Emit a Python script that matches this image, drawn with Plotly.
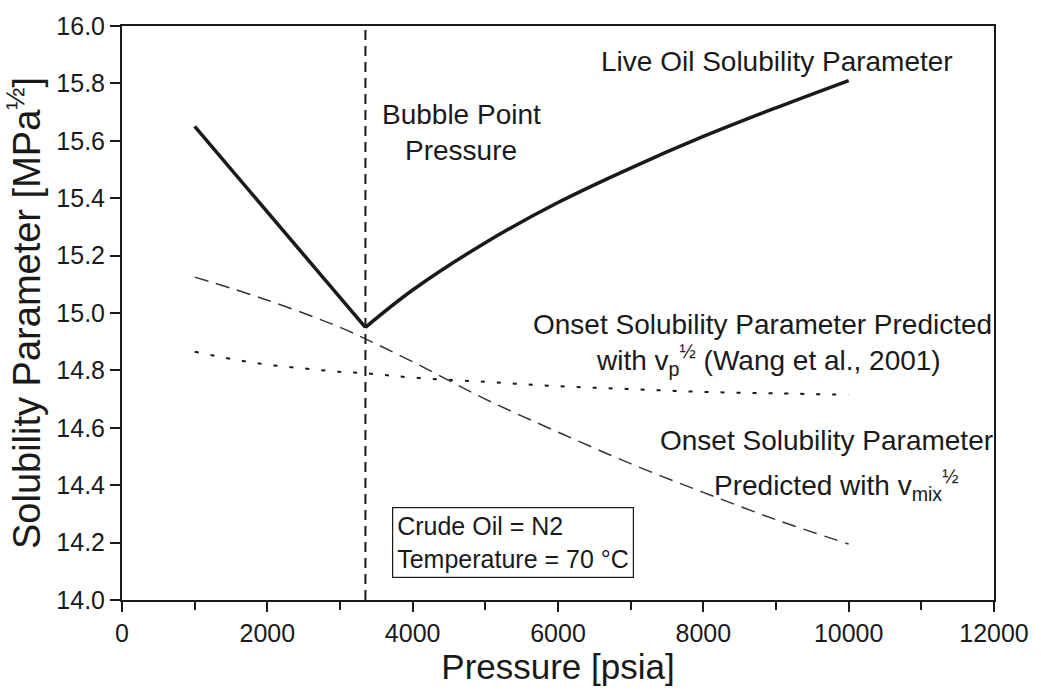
import plotly.graph_objects as go

# ---- data ----
live_p = [1000, 3350, 4000, 5000, 6000, 7000, 8000, 9000, 10000]
live_s = [15.65, 14.95, 15.08, 15.245, 15.385, 15.505, 15.615, 15.715, 15.81]

vmix_p = [1000, 2000, 3000, 3350, 4000, 5000, 6000, 7000, 8000, 9000, 10000]
vmix_s = [15.125, 15.045, 14.95, 14.91, 14.83, 14.70, 14.585, 14.475, 14.375, 14.28, 14.195]

vp_p = [1000, 1500, 2000, 2500, 3000, 3350, 4000, 5000, 6000, 7000, 8000, 9000, 10000]
vp_s = [14.865, 14.84, 14.82, 14.807, 14.795, 14.79, 14.775, 14.76, 14.745, 14.735, 14.725, 14.72, 14.715]

bubble_p = [3350, 3350]
bubble_s = [14.0, 16.0]

x_ticks = [0, 2000, 4000, 6000, 8000, 10000, 12000]
y_ticks = [14.0, 14.2, 14.4, 14.6, 14.8, 15.0, 15.2, 15.4, 15.6, 15.8, 16.0]

FONT = "Liberation Sans, Arial, sans-serif"
INK = "#1a1a1a"

fig = go.Figure()
fig.add_trace(go.Scatter(x=bubble_p, y=bubble_s, mode="lines",
                         line=dict(color=INK, width=2, dash="10px,6px"), showlegend=False))
fig.add_trace(go.Scatter(x=vp_p, y=vp_s, mode="lines", line_shape="spline",
                         line=dict(color=INK, width=2, dash="4px,12px"), showlegend=False))
fig.add_trace(go.Scatter(x=vmix_p, y=vmix_s, mode="lines", line_shape="spline",
                         line=dict(color="#333333", width=1.5, dash="14px,8px"), showlegend=False))
fig.add_trace(go.Scatter(x=live_p[:2], y=live_s[:2], mode="lines",
                         line=dict(color=INK, width=3.5), showlegend=False))
fig.add_trace(go.Scatter(x=live_p[1:], y=live_s[1:], mode="lines", line_shape="spline",
                         line=dict(color=INK, width=3.5), showlegend=False))

ann_font = dict(family=FONT, size=28, color=INK)
texts = [
    ("Live Oil Solubility Parameter", 9014, 15.875),
    ("Bubble Point", 4671, 15.69),
    ("Pressure", 4671, 15.565),
    ("Onset Solubility Parameter Predicted", 8808, 14.96),
    ("with v<sub>p</sub><sup>½</sup> (Wang et al., 2001)", 8900, 14.835),
    ("Onset Solubility Parameter", 9698, 14.555),
    ("Predicted with v<sub>mix</sub><sup>½</sup>", 9820, 14.40),
]
for t, x, y in texts:
    fig.add_annotation(x=x, y=y, xref="x", yref="y", text=t, showarrow=False,
                       font=ann_font, xanchor="center", yanchor="middle")

fig.add_annotation(x=3712, y=14.20, xref="x", yref="y", xanchor="left", yanchor="middle",
                   text="Crude Oil = N2<br>Temperature = 70 °C", align="left",
                   showarrow=False, font=dict(family=FONT, size=25, color=INK),
                   bordercolor=INK, borderwidth=1.2, borderpad=4, bgcolor="white")

axis_common = dict(showline=True, linecolor=INK, linewidth=2, mirror=True,
                   ticks="outside", tickcolor=INK, tickwidth=2, ticklen=10,
                   showgrid=False, zeroline=False,
                   tickfont=dict(family=FONT, size=25, color=INK))

fig.update_xaxes(range=[0, 12000], tickvals=x_ticks, ticktext=[str(v) for v in x_ticks],
                 minor=dict(dtick=1000, tick0=0, ticks="outside", ticklen=8, tickwidth=2, tickcolor=INK),
                 title=dict(text="Pressure [psia]", font=dict(family=FONT, size=35, color=INK), standoff=6),
                 **axis_common)
fig.update_yaxes(range=[14.0, 16.0], tickvals=y_ticks, ticktext=[f"{v:.1f}" for v in y_ticks],
                 title=dict(text="Solubility Parameter [MPa<sup>½</sup>]",
                            font=dict(family=FONT, size=38, color=INK), standoff=4),
                 **axis_common)

fig.update_layout(width=1041, height=690, margin=dict(l=122, r=41, t=23, b=90),
                  plot_bgcolor="white", paper_bgcolor="white",
                  font=dict(family=FONT, color=INK))

fig.write_html("out.html")
